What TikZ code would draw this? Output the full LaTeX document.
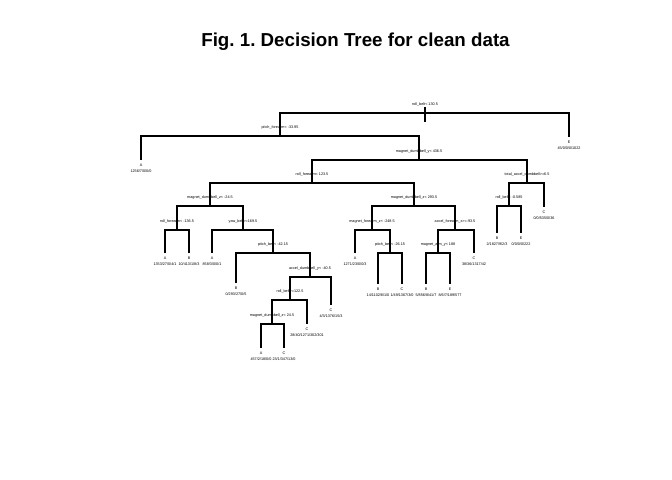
\documentclass[tikz,border=0pt]{standalone}
\usepackage{fontspec}
\setmainfont{Liberation Sans}
\usepackage{tikz}
\frenchspacing

\begin{document}
\begin{tikzpicture}[x=0.03cm, y=-0.03cm,
    split/.style={anchor=south, inner xsep=0pt, inner ysep=5.8pt, text height=2.4pt, text depth=0.7pt, font=\fontsize{3.2}{4.7}\selectfont},
    leaf/.style={anchor=north, inner xsep=0pt, inner ysep=3.4pt, align=center, font=\fontsize{3.2}{4.7}\selectfont},
    branch/.style={line width=1.2pt}]
            \useasboundingbox (0,0) rectangle (672,480);

            % Title
            \node[anchor=base, font=\fontsize{16}{18}\selectfont\bfseries] (title) at (355.5,47) {Fig. 1. Decision Tree for clean data};

            % Splits
            \node[split] (s1) at (425,113) {roll\_belt< 130.5};
            \node[split] (s2) at (280,136) {pitch\_forearm< -33.95};
            \node[split] (s3) at (419,160) {magnet\_dumbbell\_y< 436.5};
            \node[split] (s4) at (312,183) {roll\_forearm< 123.5};
            \node[split] (s5) at (527,183) {total\_accel\_dumbbell>=6.5};
            \node[split] (s6) at (210,206) {magnet\_dumbbell\_z< -24.5};
            \node[split] (s7) at (414,206) {magnet\_dumbbell\_z< 293.5};
            \node[split] (s8) at (509,206) {roll\_belt< -0.585};
            \node[split] (s9) at (177,230) {roll\_forearm< -136.5};
            \node[split] (s10) at (243,230) {yaw\_belt>=169.5};
            \node[split] (s11) at (273,253) {pitch\_belt< -42.15};
            \node[split] (s12) at (310,277) {accel\_dumbbell\_y< -40.5};
            \node[split] (s13) at (290,300) {roll\_belt>=122.5};
            \node[split] (s14) at (272,324) {magnet\_dumbbell\_z< 24.5};
            \node[split] (s15) at (372,230) {magnet\_forearm\_z< -248.5};
            \node[split] (s16) at (455,230) {accel\_forearm\_x>=-93.5};
            \node[split] (s17) at (390,253) {pitch\_belt< -26.15};
            \node[split] (s18) at (438,253) {magnet\_arm\_y< 188};

            % Leaves
            \node[leaf] (l1) at (141,160) {A\\1256/7/0/0/0};
            \node[leaf] (l2) at (569,137) {E\\45/0/0/0/1022};
            \node[leaf] (l3) at (544,207) {C\\0/0/535/0/36};
            \node[leaf] (l4) at (165,253) {A\\1353/27/0/4/1};
            \node[leaf] (l5) at (189,253) {B\\10/413/1/8/3};
            \node[leaf] (l6) at (212,253) {A\\858/3/0/0/1};
            \node[leaf] (l7) at (236,283) {B\\0/293/27/0/5};
            \node[leaf] (l8) at (331,305) {C\\4/3/1376/15/3};
            \node[leaf] (l9) at (307,324) {C\\28/40/1271/302/301};
            \node[leaf] (l10) at (261,348) {A\\457/2/18/0/0};
            \node[leaf] (l11) at (284,348) {C\\23/1/347/13/0};
            \node[leaf] (l12) at (355,253) {A\\1271/23/0/0/3};
            \node[leaf] (l13) at (378,284) {B\\14/1102/8/1/0};
            \node[leaf] (l14) at (402,284) {C\\1/49/1367/3/0};
            \node[leaf] (l15) at (426,284) {B\\5/856/8/41/7};
            \node[leaf] (l16) at (450,284) {E\\8/6/7/189/577};
            \node[leaf] (l17) at (474,253) {C\\38/36/1317/42};
            \node[leaf] (l18) at (497,233) {B\\2/1827/9/2/3};
            \node[leaf] (l19) at (521,233) {E\\0/0/0/0/222};

            % Branches
            \draw[branch] (s1.south) ++(0,-6) -- ++(0,15);
            \draw[branch] (s1.south) -| (s2.south);
            \draw[branch] (s1.south) -| (l2.north);
            \draw[branch] (s2.south) -| (l1.north);
            \draw[branch] (s2.south) -| (s3.south);
            \draw[branch] (s3.south) -| (s4.south);
            \draw[branch] (s3.south) -| (s5.south);
            \draw[branch] (s4.south) -| (s6.south);
            \draw[branch] (s4.south) -| (s7.south);
            \draw[branch] (s5.south) -| (s8.south);
            \draw[branch] (s5.south) -| (l3.north);
            \draw[branch] (s6.south) -| (s9.south);
            \draw[branch] (s6.south) -| (s10.south);
            \draw[branch] (s9.south) -| (l4.north);
            \draw[branch] (s9.south) -| (l5.north);
            \draw[branch] (s10.south) -| (l6.north);
            \draw[branch] (s10.south) -| (s11.south);
            \draw[branch] (s11.south) -| (l7.north);
            \draw[branch] (s11.south) -| (s12.south);
            \draw[branch] (s12.south) -| (s13.south);
            \draw[branch] (s12.south) -| (l8.north);
            \draw[branch] (s13.south) -| (s14.south);
            \draw[branch] (s13.south) -| (l9.north);
            \draw[branch] (s14.south) -| (l10.north);
            \draw[branch] (s14.south) -| (l11.north);
            \draw[branch] (s7.south) -| (s15.south);
            \draw[branch] (s7.south) -| (s16.south);
            \draw[branch] (s15.south) -| (l12.north);
            \draw[branch] (s15.south) -| (s17.south);
            \draw[branch] (s17.south) -| (l13.north);
            \draw[branch] (s17.south) -| (l14.north);
            \draw[branch] (s16.south) -| (s18.south);
            \draw[branch] (s16.south) -| (l17.north);
            \draw[branch] (s18.south) -| (l15.north);
            \draw[branch] (s18.south) -| (l16.north);
            \draw[branch] (s8.south) -| (l18.north);
            \draw[branch] (s8.south) -| (l19.north);

        \end{tikzpicture}
\end{document}
